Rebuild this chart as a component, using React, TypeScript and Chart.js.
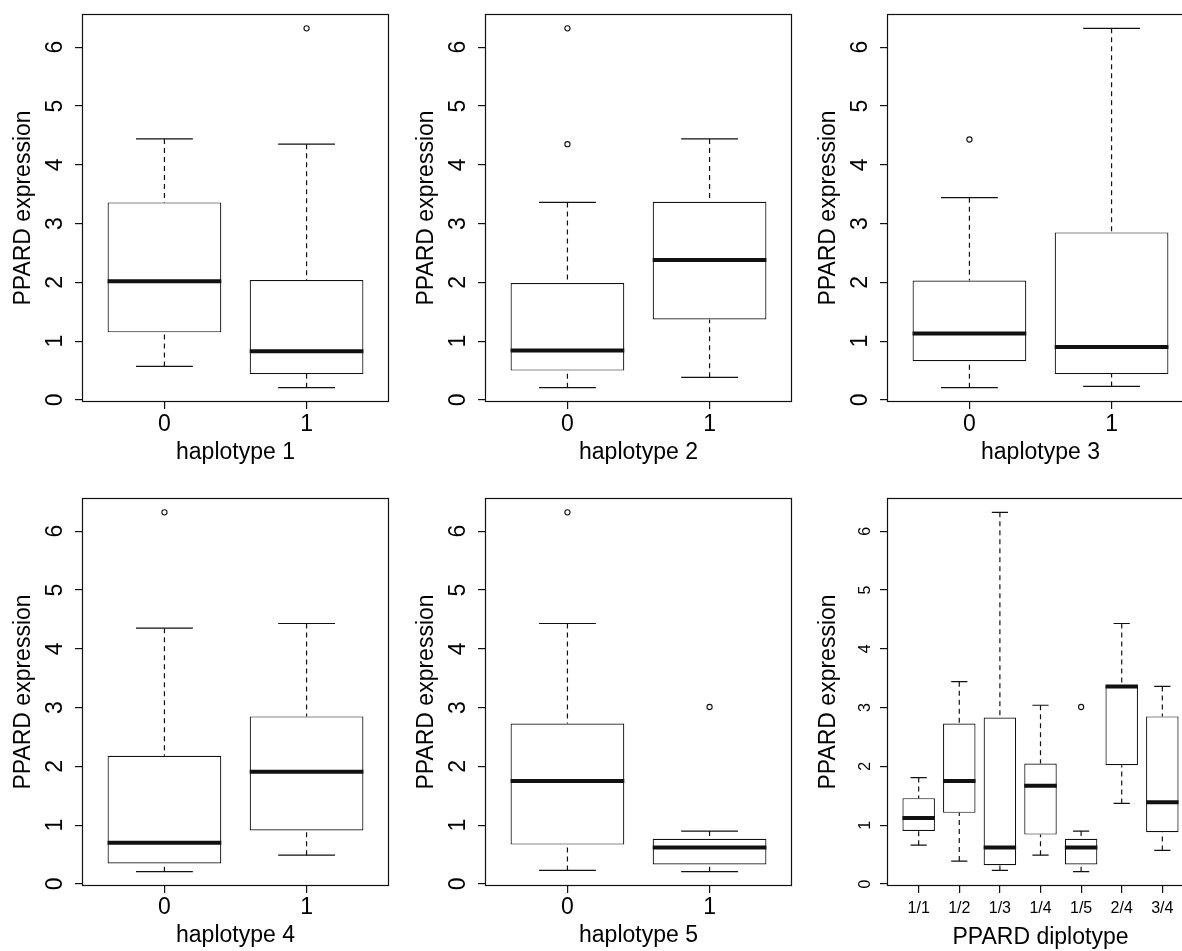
import React, { useEffect, useRef } from 'react';
import { Chart, registerables } from 'chart.js';

Chart.register(...registerables);

// ---------- data ----------
const Y_TICKS = [0, 1, 2, 3, 4, 5, 6];
const HAP_LABELS = ['0', '1'];
const DIP_LABELS = ['1/1', '1/2', '1/3', '1/4', '1/5', '2/4', '3/4'];
const Y_TITLE = 'PPARD expression';

// five-number summaries: [lower whisker, Q1, median, Q3, upper whisker]
const hap1Stats = [
  [0.57, 1.15, 2.02, 3.36, 4.44],
  [0.21, 0.44, 0.83, 2.04, 4.35],
];
const hap1Outliers = [[], [6.32]];

const hap2Stats = [
  [0.21, 0.5, 0.84, 1.99, 3.36],
  [0.385, 1.37, 2.38, 3.37, 4.44],
];
const hap2Outliers = [[6.32, 4.35], []];

const hap3Stats = [
  [0.21, 0.66, 1.13, 2.03, 3.44],
  [0.23, 0.44, 0.9, 2.85, 6.32],
];
const hap3Outliers = [[4.43], []];

const hap4Stats = [
  [0.21, 0.35, 0.7, 2.18, 4.35],
  [0.49, 0.91, 1.91, 2.85, 4.43],
];
const hap4Outliers = [[6.32], []];

const hap5Stats = [
  [0.23, 0.67, 1.75, 2.73, 4.43],
  [0.21, 0.33, 0.62, 0.77, 0.9],
];
const hap5Outliers = [[6.32], [3.01]];

const dipStats = [
  [0.66, 0.9, 1.12, 1.46, 1.81],
  [0.39, 1.21, 1.75, 2.73, 3.44],
  [0.23, 0.32, 0.62, 2.83, 6.32],
  [0.49, 0.84, 1.67, 2.05, 3.04],
  [0.21, 0.33, 0.62, 0.77, 0.9],
  [1.37, 2.02, 3.36, 3.36, 4.43],
  [0.57, 0.88, 1.39, 2.85, 3.36],
];
const dipOutliers = [[], [], [], [], [3.01], [], []];

// ---------- layout / style ----------
const FONT = "'Liberation Sans', Arial, Helvetica, sans-serif";
const INK = '#111';
const THIN = 1.2;
const CANVAS_W = 403;
const CANVAS_H = 484;
const COL_LEFT = [0, 403, 805];
const ROW_TOP = [0, 484];
const BOX_HALF = 0.4;
const CAP_HALF = 0.2;

type PanelCfg = {
  xTitle: string;
  labels: string[];
  stats: number[][];
  outliers: number[][];
  col: number;
  row: number;
  tickSize: number;
  yTickPad: number;
  xTickPad: number;
  xTitlePad: number;
};

const PANELS: PanelCfg[] = [
  { xTitle: 'haplotype 1', labels: HAP_LABELS, stats: hap1Stats, outliers: hap1Outliers, col: 0, row: 0, tickSize: 23, yTickPad: 13, xTickPad: 4, xTitlePad: 20 },
  { xTitle: 'haplotype 2', labels: HAP_LABELS, stats: hap2Stats, outliers: hap2Outliers, col: 1, row: 0, tickSize: 23, yTickPad: 13, xTickPad: 4, xTitlePad: 20 },
  { xTitle: 'haplotype 3', labels: HAP_LABELS, stats: hap3Stats, outliers: hap3Outliers, col: 2, row: 0, tickSize: 23, yTickPad: 13, xTickPad: 4, xTitlePad: 20 },
  { xTitle: 'haplotype 4', labels: HAP_LABELS, stats: hap4Stats, outliers: hap4Outliers, col: 0, row: 1, tickSize: 23, yTickPad: 13, xTickPad: 3, xTitlePad: 21 },
  { xTitle: 'haplotype 5', labels: HAP_LABELS, stats: hap5Stats, outliers: hap5Outliers, col: 1, row: 1, tickSize: 23, yTickPad: 13, xTickPad: 3, xTitlePad: 21 },
  { xTitle: 'PPARD diplotype', labels: DIP_LABELS, stats: dipStats, outliers: dipOutliers, col: 2, row: 1, tickSize: 16, yTickPad: 10, xTickPad: 8, xTitlePad: 19 },
];

const framePlugin = {
  id: 'frame',
  afterDatasetsDraw(chart: any) {
    const { ctx, chartArea: a } = chart;
    ctx.save();
    ctx.strokeStyle = INK;
    ctx.lineWidth = THIN;
    const l = Math.round(a.left) + 0.5;
    const t = Math.round(a.top) + 0.5;
    const r = Math.round(a.right) - 0.5;
    const b = Math.round(a.bottom) - 0.5;
    ctx.strokeRect(l, t, r - l, b - t);
    ctx.restore();
  },
};

function buildConfig(cfg: PanelCfg): any {
  const whiskers: any[] = [];
  const caps: any[] = [];
  const medians: any[] = [];
  const boxes: any[] = [];
  const points: any[] = [];
  cfg.stats.forEach(([lo, q1, med, q3, hi], i) => {
    const x = i + 1;
    whiskers.push({ x, y: hi }, { x, y: q3 }, { x, y: null }, { x, y: lo }, { x, y: q1 }, { x, y: null });
    caps.push(
      { x: x - CAP_HALF, y: hi }, { x: x + CAP_HALF, y: hi }, { x, y: null },
      { x: x - CAP_HALF, y: lo }, { x: x + CAP_HALF, y: lo }, { x, y: null }
    );
    medians.push({ x: x - BOX_HALF, y: med }, { x: x + BOX_HALF, y: med }, { x, y: null });
    boxes.push({ x, y: [q1, q3] });
    cfg.outliers[i].forEach((v) => points.push({ x, y: v }));
  });

  const all: number[] = [];
  cfg.stats.forEach((s) => all.push(...s));
  cfg.outliers.forEach((o) => all.push(...o));
  const lo = Math.min(...all);
  const hi = Math.max(...all);
  const ext = (hi - lo) * 0.04;
  const n = cfg.labels.length;
  const xExt = n * 0.04;

  const tickFont = { family: FONT, size: cfg.tickSize, lineHeight: 1 };
  const titleFont = { family: FONT, size: 23, lineHeight: 1 };
  const grid = { display: true, drawOnChartArea: false, drawTicks: true, tickLength: 7, color: INK, lineWidth: THIN, offset: false };

  const lineBase = { type: 'line', pointRadius: 0, spanGaps: false, tension: 0, borderColor: INK, fill: false };

  return {
    type: 'bar',
    data: {
      datasets: [
        { ...lineBase, label: 'median', data: medians, borderWidth: 4, borderCapStyle: 'butt', order: 0 },
        {
          type: 'line', label: 'outliers', data: points, showLine: false, pointRadius: 2.6, pointStyle: 'circle',
          pointBackgroundColor: '#fff', pointBorderColor: INK, pointBorderWidth: 1.1, order: 1,
        },
        {
          type: 'bar', label: 'box', data: boxes, backgroundColor: '#fff', borderColor: INK, borderWidth: THIN,
          borderSkipped: false, inflateAmount: 0, categoryPercentage: 1, barPercentage: BOX_HALF * 2, order: 2,
        },
        { ...lineBase, label: 'caps', data: caps, borderWidth: THIN, order: 3 },
        { ...lineBase, label: 'whiskers', data: whiskers, borderWidth: THIN, borderDash: [5, 4], order: 4 },
      ],
    },
    options: {
      animation: false,
      responsive: false,
      events: [],
      layout: { padding: { left: 0, top: 14, right: 14, bottom: 0 } },
      plugins: { legend: { display: false }, tooltip: { enabled: false }, title: { display: false } },
      scales: {
        x: {
          type: 'linear',
          position: 'bottom',
          offset: false,
          min: 0.5 - xExt,
          max: n + 0.5 + xExt,
          afterBuildTicks: (s: any) => {
            s.ticks = cfg.labels.map((_, i) => ({ value: i + 1 }));
          },
          afterFit: (s: any) => {
            s.height = 82;
            s.paddingLeft = 0;
            s.paddingRight = 0;
          },
          ticks: {
            autoSkip: false, minRotation: 0, maxRotation: 0, padding: cfg.xTickPad, color: '#000', font: tickFont,
            callback: (_v: any, i: number) => cfg.labels[i],
          },
          grid,
          border: { display: false },
          title: { display: true, text: cfg.xTitle, color: '#000', font: titleFont, padding: { top: 0, bottom: cfg.xTitlePad } },
        },
        y: {
          type: 'linear',
          position: 'left',
          min: lo - ext,
          max: hi + ext,
          afterBuildTicks: (s: any) => {
            s.ticks = Y_TICKS.map((v) => ({ value: v }));
          },
          afterFit: (s: any) => {
            s.width = 82;
            s.paddingTop = 0;
            s.paddingBottom = 0;
          },
          ticks: {
            autoSkip: false, minRotation: 90, maxRotation: 90, crossAlign: 'center', padding: cfg.yTickPad,
            color: '#000', font: tickFont, callback: (v: any) => String(v),
          },
          grid,
          border: { display: false },
          title: { display: true, text: Y_TITLE, color: '#000', font: titleFont, padding: { top: 12, bottom: 0 } },
        },
      },
    },
    plugins: [framePlugin],
  };
}

function Panel({ cfg }: { cfg: PanelCfg }) {
  const ref = useRef<HTMLCanvasElement>(null);
  useEffect(() => {
    const chart = new Chart(ref.current as HTMLCanvasElement, buildConfig(cfg));
    return () => chart.destroy();
  }, [cfg]);
  return (
    <canvas
      ref={ref}
      width={CANVAS_W}
      height={CANVAS_H}
      style={{ position: 'absolute', left: COL_LEFT[cfg.col], top: ROW_TOP[cfg.row], width: CANVAS_W, height: CANVAS_H, display: 'block' }}
    />
  );
}

export default function App() {
  return (
    <div style={{ position: 'fixed', left: 0, top: 0, width: 1182, height: 951, overflow: 'hidden', background: '#fff' }}>
      {PANELS.map((p) => (
        <Panel key={p.xTitle} cfg={p} />
      ))}
    </div>
  );
}
